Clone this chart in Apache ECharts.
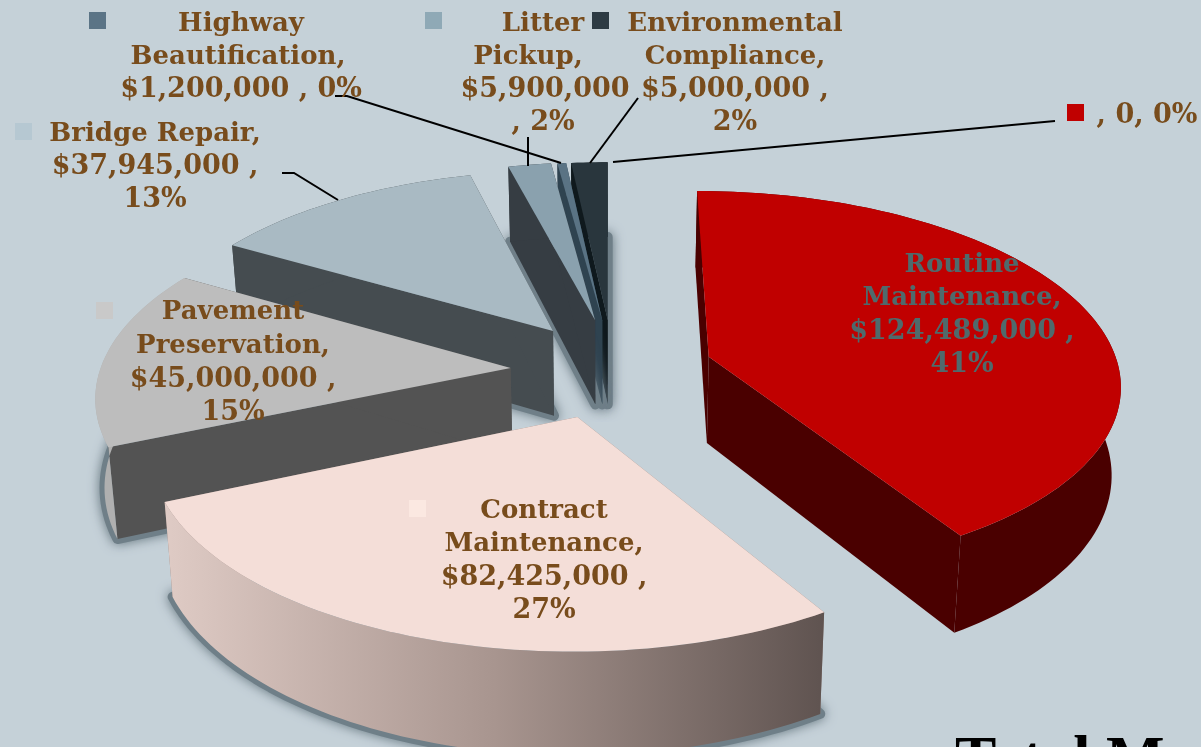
<!DOCTYPE html>
<html><head><meta charset="utf-8">
<style>html,body{margin:0;padding:0;background:#c5d1d8}#c{width:1201px;height:747px}</style>
<script src="https://cdn.jsdelivr.net/npm/echarts@6/dist/echarts.min.js"></script>
</head><body><div id="c"></div>
<script>
// ---- data ----
const categories = ['Routine Maintenance','Contract Maintenance','Pavement Preservation','Bridge Repair','Litter Pickup','Highway Beautification','Environmental Compliance',''];
const budget = [124489000,82425000,45000000,37945000,5900000,1200000,5000000,0];
const topColors = ['#c00000','#f4ded8','#bdbdbd','#a9bac3','#8aa1ae','#5a7384','#29363d','#c00000'];
const wallColors = ['#4a0000','#8f7d78','#535353','#454c50','#363d43','#2f4350','#0f191d','#4a0000'];
const keyColors = ['#c00000','#fbe8e1','#c9c9c9','#b6c8d2','#8fa9b6','#5b7486','#2d3b44','#c00000'];
// exploded offset of each slice on the pie plane (x, forward), in radii
const explode = [[.25,-.06],[-.07,.25],[-.235,0],[-.135,-.2],[-.03,-.26],[-.012,-.26],[.002,-.26],[0,0]];
const drawOrder = [6,5,4,3,2,0,1];
const total = budget.reduce((a,b)=>a+b,0);
const fmt = v => v===0 ? '0' : '$'+v.toLocaleString('en-US');
const pct = v => Math.round(v/total*100)+'%';
const labels = [
 {c:0,color:'#4f6a6c',lines:[['Routine',962,265],['Maintenance,',962,298],[fmt(budget[0])+' ,',962,332],[pct(budget[0]),962,365]],key:[819,254]},
 {c:1,color:'#784c1c',lines:[['Contract',544,511],['Maintenance,',544,544],[fmt(budget[1])+' ,',544,578],[pct(budget[1]),544,611]],key:[409,500]},
 {c:2,color:'#784c1c',lines:[['Pavement',233,312],['Preservation,',233,346],[fmt(budget[2])+' ,',233,380],[pct(budget[2]),233,413]],key:[96,302]},
 {c:3,color:'#784c1c',lines:[['Bridge Repair,',155,134],[fmt(budget[3])+' ,',155,167],[pct(budget[3]),155,200]],key:[15,123]},
 {c:4,color:'#784c1c',lines:[['Litter',543,24],['Pickup,',528,57],[fmt(budget[4]),545,90],[', '+pct(budget[4]),543,123]],key:[425,12]},
 {c:5,color:'#784c1c',lines:[['Highway',241,24],['Beautification,',238,57],[fmt(budget[5])+' , '+pct(budget[5]),241,90]],key:[89,12]},
 {c:6,color:'#784c1c',lines:[['Environmental',735,24],['Compliance,',735,57],[fmt(budget[6])+' ,',735,90],[pct(budget[6]),735,123]],key:[592,12]},
 {c:7,color:'#784c1c',lines:[[', '+fmt(budget[7])+', '+pct(budget[7]),1147,116]],key:[1067,104]}
];
const leaders = [
 [[282,173],[294,173],[338,200]],
 [[528,137],[528,166]],
 [[335,96],[347,96],[561,163]],
 [[638,98],[590,163]],
 [[1055,121],[613,162]]
];
// ---- projection ----
const CX=607, CY=368, RX=410, RY=190, K=.13, DEPTH=87, M=.018;
function proj(X,Y,z){
  const s=1/(1-K*Y);
  return [CX+RX*X*s*(1-M*z), CY+RY*Y*s+DEPTH*z*s];
}
const startAngles=[]; (function(){let a=0;budget.forEach(v=>{startAngles.push(a);a+=v/total*2*Math.PI;});})();
function arc(i,z,rev){
  const a0=startAngles[i],a1=a0+budget[i]/total*2*Math.PI,n=Math.max(6,Math.ceil((a1-a0)*40)),pts=[];
  const [ex,ey]=explode[i];
  for(let k=0;k<=n;k++){const a=a0+(a1-a0)*k/n;pts.push(proj(ex+Math.sin(a),ey-Math.cos(a),z));}
  return rev?pts.reverse():pts;
}
function renderItem(params,api){
  const i=api.value(0), [ex,ey]=explode[i];
  const apexT=proj(ex,ey,0), apexB=proj(ex,ey,1);
  const top=arc(i,0), bot=arc(i,1);
  const wall=wallColors[i];
  const kids=[];
  if(i!==0){ // soft shadow under the slice
    kids.push({type:'polygon',shape:{points:[apexB].concat(bot)},
      style:{fill:'#6f7f88',stroke:'#6f7f88',lineWidth:10,lineJoin:'round',shadowBlur:12,shadowColor:'#6f7f88'}});
  }
  kids.push({type:'polygon',shape:{points:[apexT,top[0],bot[0],apexB]},style:{fill:wall}});
  kids.push({type:'polygon',shape:{points:[apexT,top[top.length-1],bot[bot.length-1],apexB]},style:{fill:wall}});
  let arcFill=wall;
  if(i===1) arcFill=new echarts.graphic.LinearGradient(0,0,1,0,[{offset:0,color:'#dfcbc5'},{offset:.5,color:'#a8958f'},{offset:1,color:'#5f5350'}]);
  if(i===2) arcFill='#b0b0b0';
  kids.push({type:'polygon',shape:{points:top.concat(arc(i,1,true))},style:{fill:arcFill}});
  kids.push({type:'polygon',shape:{points:[apexT].concat(top)},style:{fill:topColors[i]}});
  return {type:'group',children:kids};
}
const FONT='"DejaVu Serif"';
const gfx=[];
labels.forEach(l=>{
  gfx.push({type:'rect',z:50,shape:{x:l.key[0],y:l.key[1],width:17,height:17},style:{fill:keyColors[l.c]}});
  l.lines.forEach(t=>gfx.push({type:'text',z:51,x:t[1],y:t[2],style:{text:t[0],fill:l.color,
    font:'bold '+(/^[$,0-9]/.test(t[0])?27:26)+'px '+FONT,textAlign:'center',textVerticalAlign:'middle'}}));
});
leaders.forEach(p=>gfx.push({type:'polyline',z:49,shape:{points:p},style:{stroke:'#000',lineWidth:2,fill:null}}));
gfx.push({type:'text',z:51,x:955,y:731,style:{text:'Total M',fill:'#000',font:'bold 62px "Liberation Serif"',textAlign:'left',textVerticalAlign:'top'}});
const chart=echarts.init(document.getElementById('c'),null,{renderer:'canvas'});
chart.setOption({
  backgroundColor:'#c5d1d8',animation:false,
  series:[{type:'custom',coordinateSystem:'none',renderItem,silent:true,
    data:drawOrder.map(i=>({value:[i,budget[i]],name:categories[i]}))}],
  graphic:{elements:gfx}
});
</script></body></html>
